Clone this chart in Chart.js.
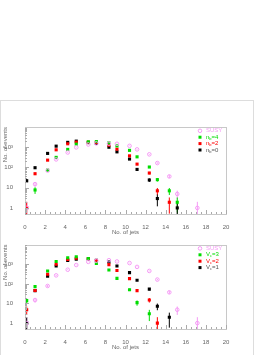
<!DOCTYPE html>
<html>
<head>
<meta charset="utf-8">
<script src="https://cdn.jsdelivr.net/npm/chart.js@4/dist/chart.umd.min.js"></script>
<style>
  body { margin: 0; background: #fff; }
  #pad { position: absolute; left: 0; top: 100px; width: 252px; height: 262px; border: 1px solid #ddd; }
  canvas { position: absolute; left: 0; }
  #top { top: 100px; width: 253px; height: 137px; }
  #bottom { top: 237px; width: 253px; height: 118px; }
</style>
</head>
<body>
<div id="pad"></div>
<canvas id="top" width="253" height="137"></canvas>
<canvas id="bottom" width="253" height="118"></canvas>
<script>
// bin positions (no. of jets) as plotted
const jetBins = [0.17, 1.0, 2.25, 3.1, 4.25, 5.1, 6.3, 7.1, 8.35, 9.15, 10.4, 11.15, 12.37, 13.17, 14.36, 15.15, 17.15];

const yTickValues = [1, 10, 100, 1000];
const yTickLabels = ['1', '10', '10²', '10³'];

// top panel
const topLabels = ['SUSY', 'n_b=4', 'n_b=2', 'n_b=0'];
const topSusy  = [1, 15, 70, 250, 550, 980, 1370, 1550, 1500, 1480, 1170, 780, 445, 165, 36, 4.9, 1];
const topFour  = [null, 7.7, 74, 315, 780, 1420, 1850, 1900, 1650, 1170, 700, 335, 105, 25, 7, 1.9, null];
const topTwo   = [1, 49, 230, 745, 1480, 1780, 1780, 1700, 1260, 800, 375, 146, 53, 7, 1.9, null, null];
const topZero  = [22, 97, 495, 1130, 1740, 2000, 1700, 1550, 1000, 590, 260, 80, 24, 2.9, null, 1, null];

// bottom panel
const bottomLabels = ['SUSY', 'V_c=3', 'V_c=2', 'V_c=1'];
const bottomSusy  = [1, 15, 78, 270, 525, 910, 1320, 1500, 1600, 1380, 1150, 730, 455, 165, 37, 4.8, 1];
const bottomThree = [14, 72, 450, 1380, 2150, 2400, 1950, 1100, 505, 190, 50, 11, 3, null, null, null, null];
const bottomTwo   = [4.8, 46, 310, 1000, 1730, 2000, 1900, 1550, 950, 480, 185, 45, 15, 1, null, null, null];
const bottomOne   = [1, 45, 245, 815, 1550, 1800, 1850, 1600, 1290, 815, 375, 153, 54, 7.2, 2, null, null];

const colors = ['#f59af5', '#00dd00', '#ff0000', '#000000'];
const FONT = '"Liberation Sans", Arial, sans-serif';

function points(vals) {
  return jetBins.map((x, i) => ({ x: x, y: vals[i] }));
}

// sqrt(N) error bars, under the markers
const errorBars = {
  id: 'errorBars',
  beforeDatasetsDraw(chart) {
    const { ctx, chartArea: a, scales: { x, y } } = chart;
    ctx.save();
    ctx.beginPath();
    ctx.rect(a.left, a.top, a.right - a.left, a.bottom - a.top);
    ctx.clip();
    ctx.lineWidth = 1;
    chart.data.datasets.forEach(ds => {
      ctx.strokeStyle = ds.borderColor;
      ds.data.forEach(p => {
        if (p.y == null) return;
        const e = Math.sqrt(p.y);
        const lo = p.y - e > 0 ? y.getPixelForValue(p.y - e) : a.bottom;
        const hi = y.getPixelForValue(p.y + e);
        const px = x.getPixelForValue(p.x);
        ctx.beginPath();
        ctx.moveTo(px, lo);
        ctx.lineTo(px, hi);
        ctx.stroke();
      });
    });
    ctx.restore();
  }
};

function drawLabel(ctx, text, x, y, color) {
  const parts = text.split('_');
  ctx.fillStyle = color;
  ctx.textBaseline = 'middle';
  ctx.textAlign = 'left';
  ctx.font = '6px ' + FONT;
  ctx.fillText(parts[0], x, y);
  if (parts.length > 1) {
    let cx = x + ctx.measureText(parts[0]).width;
    ctx.font = '4px ' + FONT;
    ctx.fillText(parts[1][0], cx, y + 1.5);
    cx += ctx.measureText(parts[1][0]).width;
    ctx.font = '6px ' + FONT;
    ctx.fillText(parts[1].slice(1), cx, y);
  }
}

// frame, inside tick marks and the legend box
const framePlugin = {
  id: 'frame',
  afterDraw(chart) {
    const { ctx, chartArea: a, scales: { x, y } } = chart;
    ctx.save();
    ctx.strokeStyle = '#c8c8c8';
    ctx.lineWidth = 1;
    ctx.strokeRect(Math.round(a.left) + 0.5, Math.round(a.top) + 0.5,
      Math.round(a.right - a.left), Math.round(a.bottom - a.top));

    ctx.strokeStyle = '#aaa';
    ctx.beginPath();
    for (let d = 0.1; d < 1e4; d *= 10) {
      for (let m = 1; m < 10; m++) {
        const v = m * d;
        if (v < 0.5 || v > 1e4) continue;
        const py = Math.round(y.getPixelForValue(v)) + 0.5;
        const len = m === 1 ? 4 : 2;
        ctx.moveTo(a.left, py);
        ctx.lineTo(a.left + len, py);
      }
    }
    for (let v = 0; v <= 20; v += 0.5) {
      const px = Math.round(x.getPixelForValue(v)) + 0.5;
      const len = v % 2 === 0 ? 4 : 2;
      ctx.moveTo(px, a.bottom);
      ctx.lineTo(px, a.bottom - len);
    }
    ctx.stroke();

    const lx = a.right - 26;
    chart.data.datasets.forEach((ds, i) => {
      const ly = a.top + 3.8 + i * 6.4;
      if (i === 0) {
        ctx.strokeStyle = ds.borderColor;
        ctx.beginPath();
        ctx.arc(lx, ly, 1.8, 0, Math.PI * 2);
        ctx.stroke();
      } else {
        ctx.fillStyle = ds.backgroundColor;
        ctx.fillRect(lx - 1.5, ly - 1.5, 3, 3);
      }
      drawLabel(ctx, ds.label, lx + 6, ly, ds.borderColor === '#000000' ? '#555' : ds.borderColor);
    });
    ctx.restore();
  }
};

function makeChart(id, labels, series, padTop, axisH, titlePad) {
  return new Chart(document.getElementById(id), {
    type: 'scatter',
    data: {
      datasets: series.map((vals, i) => ({
        label: labels[i],
        data: points(vals),
        pointStyle: i === 0 ? 'circle' : 'rect',
        pointRadius: i === 0 ? 1.8 : 2.2,
        backgroundColor: i === 0 ? 'rgba(0,0,0,0)' : colors[i],
        borderColor: colors[i],
        borderWidth: i === 0 ? 1 : 0,
        showLine: false
      }))
    },
    options: {
      responsive: false,
      animation: false,
      layout: { padding: { top: padTop, right: 27, left: 0, bottom: 0 } },
      plugins: { legend: { display: false }, tooltip: { enabled: false } },
      scales: {
        x: {
          type: 'linear',
          min: 0,
          max: 20,
          grid: { display: false },
          border: { display: false },
          ticks: { stepSize: 2, autoSkip: false, maxRotation: 0, padding: 2, color: '#666', font: { size: 6, family: FONT } },
          title: { display: true, text: 'No. of jets', color: '#666', font: { size: 6, family: FONT }, padding: { top: 0, bottom: titlePad } },
          afterFit(scale) { scale.height = axisH; }
        },
        y: {
          type: 'logarithmic',
          min: 0.5,
          max: 10000,
          grid: { display: false },
          border: { display: false },
          afterBuildTicks(scale) { scale.ticks = yTickValues.map(v => ({ value: v })); },
          ticks: {
            padding: 4,
            color: '#666',
            font: { size: 6, family: FONT },
            callback: v => yTickLabels[yTickValues.indexOf(v)]
          },
          title: { display: true, text: 'No. of events', align: 'end', color: '#666', font: { size: 6, family: FONT }, padding: { top: 1.4, bottom: 0 } },
          afterFit(scale) { scale.width = 25; }
        }
      }
    },
    plugins: [errorBars, framePlugin]
  });
}

makeChart('top', topLabels, [topSusy, topFour, topTwo, topZero], 27, 23, 1.4);
makeChart('bottom', bottomLabels, [bottomSusy, bottomThree, bottomTwo, bottomOne], 3, 26, 4.4);
</script>
</body>
</html>
